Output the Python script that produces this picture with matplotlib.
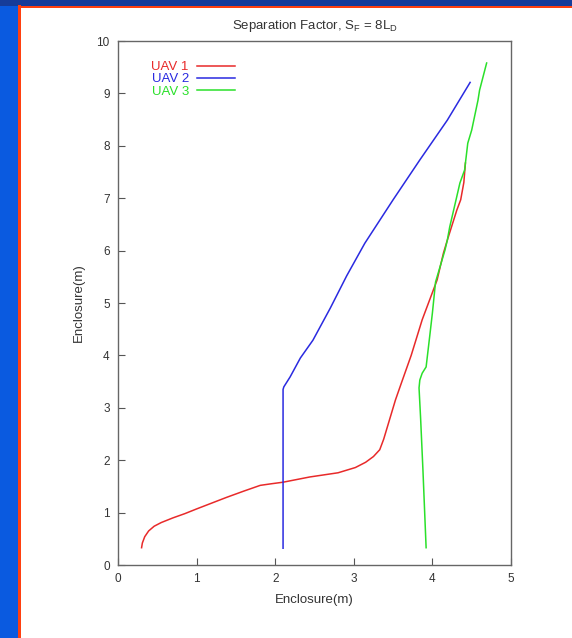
import matplotlib
matplotlib.use("Agg")
import matplotlib.pyplot as plt
from matplotlib.patches import Rectangle

plt.rcParams['font.family'] = ['Liberation Sans', 'DejaVu Sans']

title = r'Separation Factor, S$_\mathregular{F}$ = 8L$_\mathregular{D}$'
xlabel = 'Enclosure(m)'
ylabel = 'Enclosure(m)'
labels = ['UAV 1', 'UAV 2', 'UAV 3']
xticks = [0, 1, 2, 3, 4, 5]
yticks = [0, 1, 2, 3, 4, 5, 6, 7, 8, 9, 10]

uav1_x = [0.30, 0.31, 0.34, 0.39, 0.46, 0.55, 0.70, 0.85, 1.00, 1.38, 1.60, 1.81,
          1.95, 2.10, 2.44, 2.80, 3.02, 3.15, 3.25, 3.33, 3.38, 3.45, 3.53, 3.60,
          3.73, 3.87, 4.06, 4.14, 4.19, 4.31, 4.36, 4.40, 4.42]
uav1_y = [0.33, 0.42, 0.54, 0.65, 0.74, 0.81, 0.90, 0.98, 1.07, 1.29, 1.41, 1.52,
          1.55, 1.58, 1.68, 1.76, 1.86, 1.96, 2.07, 2.20, 2.40, 2.75, 3.15, 3.45,
          4.00, 4.68, 5.44, 5.95, 6.20, 6.77, 6.97, 7.30, 7.67]

uav2_x = [2.10, 2.10, 2.11, 2.19, 2.32, 2.48, 2.70, 2.91, 3.14, 3.50, 3.84, 4.19, 4.48]
uav2_y = [0.32, 3.35, 3.40, 3.59, 3.95, 4.29, 4.90, 5.52, 6.14, 6.97, 7.73, 8.49, 9.21]

uav3_x = [3.92, 3.88, 3.85, 3.83, 3.84, 3.87, 3.92, 3.97, 4.00, 4.04, 4.16, 4.19,
          4.22, 4.29, 4.35, 4.41, 4.45, 4.50, 4.58, 4.60, 4.69]
uav3_y = [0.33, 1.80, 2.80, 3.38, 3.53, 3.66, 3.78, 4.42, 4.81, 5.40, 6.01, 6.20,
          6.45, 6.90, 7.29, 7.54, 8.05, 8.30, 8.87, 9.06, 9.58]

colors = ['#e82a2a', '#2a2ae0', '#2ae02a']

fig = plt.figure(figsize=(5.72, 6.38), dpi=100)
fig.patch.set_facecolor('white')

# slide background decorations
fig.patches.append(Rectangle((0, 0), 18/572, 1, transform=fig.transFigure,
                             facecolor='#0a5ae0', edgecolor='none', zorder=0))
fig.patches.append(Rectangle((0, 1 - 6/638), 1, 6/638, transform=fig.transFigure,
                             facecolor='#163c9a', edgecolor='none', zorder=0))
fig.patches.append(Rectangle((18/572, 0), 2.5/572, 1 - 5/638, transform=fig.transFigure,
                             facecolor='#ff4010', edgecolor='none', zorder=1))
fig.patches.append(Rectangle((18/572, 1 - 8/638), 1, 2.5/638, transform=fig.transFigure,
                             facecolor='#ff4010', edgecolor='none', zorder=1))

ax = fig.add_axes([118/572, 1 - 565/638, 393/572, 524/638])
ax.plot(uav1_x, uav1_y, color=colors[0], lw=1.1, label=labels[0])
ax.plot(uav2_x, uav2_y, color=colors[1], lw=1.1, label=labels[1])
ax.plot(uav3_x, uav3_y, color=colors[2], lw=1.1, label=labels[2])

ax.set_xlim(0, 5)
ax.set_ylim(0, 10)
ax.set_xticks(xticks)
ax.set_yticks(yticks)
ax.tick_params(direction='in', length=5, width=0.8, colors='#555555',
               labelcolor='#333333', labelsize=8.5, pad=6)
for s in ax.spines.values():
    s.set_color('#666666')
    s.set_linewidth(1.0)

ax.set_title(title, fontsize=9.5, color='#333333', pad=9)
ax.set_xlabel(xlabel, fontsize=9.5, color='#333333', labelpad=6)
ax.set_ylabel(ylabel, fontsize=9.5, color='#333333', labelpad=8)

leg = ax.legend(loc='upper left', bbox_to_anchor=(0.085, 0.962), frameon=False,
                markerfirst=False, fontsize=9.5, handlelength=2.9, handletextpad=0.6,
                labelspacing=0.0, borderpad=0, borderaxespad=0, labelcolor='linecolor')

fig.savefig('out.png', dpi=100, facecolor=fig.get_facecolor())
